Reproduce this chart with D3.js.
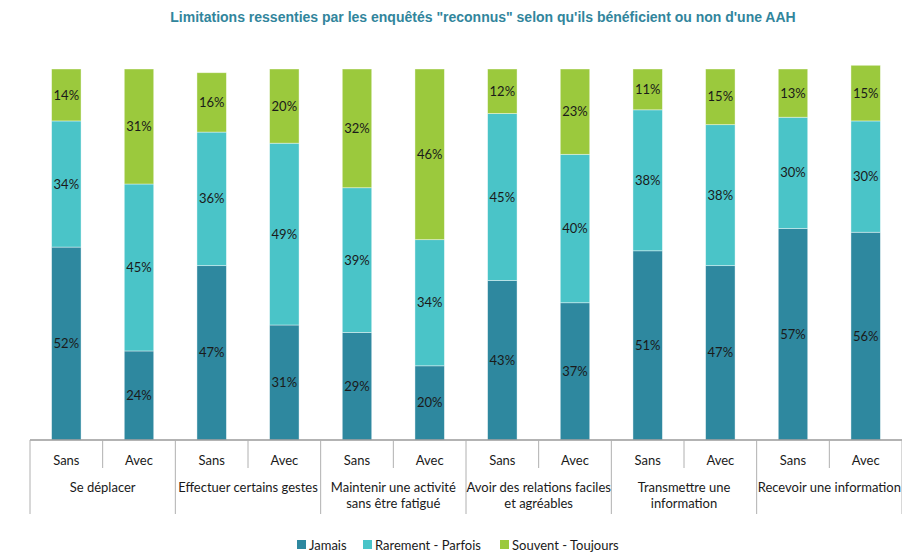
<!DOCTYPE html>
<html>
<head>
<meta charset="utf-8">
<script src="https://cdn.jsdelivr.net/npm/d3@7"></script>
<style>
  body { margin: 0; background: #fff; }
  svg text { font-family: Lato, "Open Sans", sans-serif; }
</style>
</head>
<body>
<svg id="chart" width="902" height="552"></svg>
<script>
// data
const groups = ["Se déplacer", "Effectuer certains gestes", "Maintenir une activité|sans être fatigué",
    "Avoir des relations faciles|et agréables", "Transmettre une|information", "Recevoir une information"];
const subs = ["Sans", "Avec"];
const seriesNames = ["Jamais", "Rarement - Parfois", "Souvent - Toujours"];
const jamais =   [52, 24, 47, 31, 29, 20, 43, 37, 51, 47, 57, 56];
const rarement = [34, 45, 36, 49, 39, 34, 45, 40, 38, 38, 30, 30];
const souvent =  [14, 31, 16, 20, 32, 46, 12, 23, 11, 15, 13, 15];
const colors = ["#2e889f", "#4ac4c8", "#9bc93d"];

const svg = d3.select("#chart");
const left = 30, right = 902, baseY = 440, topY = 69;

// build one row per bar
const rows = [];
groups.forEach((g, gi) => subs.forEach((s, si) => {
    const i = gi * 2 + si;
    rows.push({key: gi + "-" + s, group: gi, sub: s,
        Jamais: jamais[i], "Rarement - Parfois": rarement[i], "Souvent - Toujours": souvent[i]});
}));

const x = d3.scaleBand().domain(rows.map(d => d.key)).range([left, right]).paddingInner(0.595).paddingOuter(0.2975);
const y = d3.scaleLinear().domain([0, 100]).range([baseY, topY]);
const color = d3.scaleOrdinal().domain(seriesNames).range(colors);

const stacked = d3.stack().keys(seriesNames)(rows);

// title
svg.append("text")
    .attr("x", 483).attr("y", 22)
    .attr("text-anchor", "middle")
    .style("font-family", "'Liberation Sans', Arial, sans-serif")
    .style("font-weight", "bold")
    .style("font-size", "14px")
    .attr("fill", "#31859c")
    .text("Limitations ressenties par les enquêtés \"reconnus\" selon qu'ils bénéficient ou non d'une AAH");

// bars
const layer = svg.append("g").selectAll("g")
    .data(stacked).join("g")
    .attr("fill", d => color(d.key));

layer.selectAll("rect")
    .data(d => d).join("rect")
    .attr("x", d => x(d.data.key))
    .attr("y", d => y(d[1]))
    .attr("width", x.bandwidth())
    .attr("height", d => y(d[0]) - y(d[1]))
    .attr("stroke", "#ffffff")
    .attr("stroke-opacity", 0.5)
    .attr("stroke-width", 0.8);

layer.selectAll("text")
    .data(d => d).join("text")
    .attr("x", d => x(d.data.key) + x.bandwidth() / 2)
    .attr("y", d => (y(d[0]) + y(d[1])) / 2)
    .attr("dy", "0.35em")
    .attr("text-anchor", "middle")
    .attr("fill", "#1a1a1a")
    .style("font-size", "13px")
    .text(d => Math.round(d[1] - d[0]) + "%");

// category axis
const axis = svg.append("g");
const step = x.step();
axis.append("line")
    .attr("x1", left).attr("x2", right)
    .attr("y1", baseY).attr("y2", baseY)
    .attr("stroke", "#9a9a9a").attr("stroke-width", 1.5);

// small dividers between Sans / Avec
axis.selectAll(".sub-tick")
    .data(groups).join("line")
    .attr("class", "sub-tick")
    .attr("x1", (d, i) => left + (i * 2 + 1) * step)
    .attr("x2", (d, i) => left + (i * 2 + 1) * step)
    .attr("y1", baseY).attr("y2", 468)
    .attr("stroke", "#b0b0b0");

// group dividers
axis.selectAll(".group-tick")
    .data(d3.range(groups.length + 1)).join("line")
    .attr("class", "group-tick")
    .attr("x1", i => left + i * 2 * step)
    .attr("x2", i => left + i * 2 * step)
    .attr("y1", baseY).attr("y2", 514)
    .attr("stroke", "#b0b0b0");

axis.selectAll(".sub-label")
    .data(rows).join("text")
    .attr("class", "sub-label")
    .attr("x", d => x(d.key) + x.bandwidth() / 2)
    .attr("y", 465)
    .attr("text-anchor", "middle")
    .attr("fill", "#1a1a1a")
    .style("font-size", "13px")
    .text(d => d.sub);

const gl = axis.selectAll(".group-label")
    .data(groups).join("text")
    .attr("class", "group-label")
    .attr("text-anchor", "middle")
    .attr("fill", "#1a1a1a")
    .style("font-size", "13px");
gl.each(function(d, i) {
    const cx = left + (i * 2 + 1) * step;
    d3.select(this).selectAll("tspan")
        .data(d.split("|")).join("tspan")
        .attr("x", cx)
        .attr("y", (t, j) => 492 + j * 16)
        .text(t => t);
});

// legend
const legendX = [297, 363, 500];
const legend = svg.append("g").selectAll("g")
    .data(seriesNames).join("g")
    .attr("transform", (d, i) => "translate(" + legendX[i] + ",540)");
legend.append("rect")
    .attr("width", 9).attr("height", 9)
    .attr("fill", d => color(d));
legend.append("text")
    .attr("x", 12).attr("y", 9.5)
    .attr("fill", "#1a1a1a")
    .style("font-size", "13px")
    .text(d => d);
</script>
</body>
</html>
